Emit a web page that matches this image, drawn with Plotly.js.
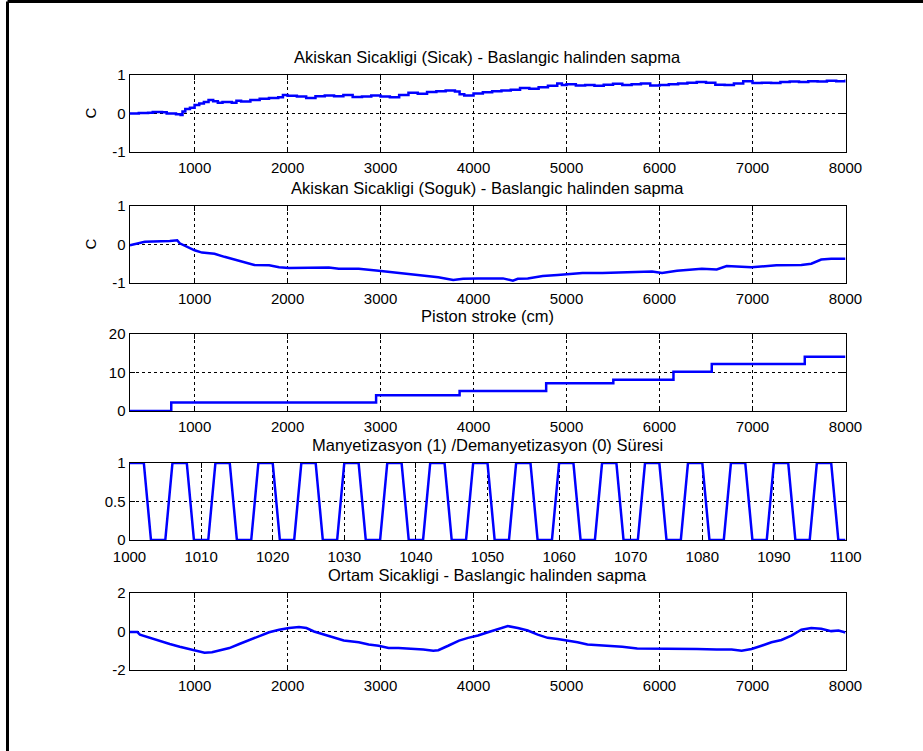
<!DOCTYPE html>
<html>
<head>
<meta charset="utf-8">
<script src="https://cdn.plot.ly/plotly-3.0.1.min.js"></script>
<style>
html,body{margin:0;padding:0;background:#fff;}
#chart{width:923px;height:751px;}
</style>
</head>
<body>
<div id="chart"></div>
<script>
// ---- Panel 1: Akiskan Sicakligi (Sicak)
const hotX = [300,400,500,550,650,700,800,850,870,900,950,1000,1050,1100,1150,1200,1250,1300,1400,1450,1500,1600,1700,1800,1900,1950,2000,2100,2200,2300,2400,2500,2600,2700,2800,2900,3000,3100,3200,3300,3400,3500,3600,3700,3800,3850,3900,4000,4100,4200,4300,4400,4500,4600,4700,4800,4900,4950,5000,5100,5200,5300,5400,5500,5600,5700,5800,5900,6000,6100,6200,6300,6400,6500,6600,6700,6800,6900,7000,7100,7200,7300,7400,7500,7600,7700,7800,7900,8000];
const hotY = [0.00,0.01,0.02,0.04,0.03,0.00,-0.02,-0.04,0.05,0.12,0.15,0.22,0.26,0.30,0.35,0.32,0.28,0.30,0.28,0.33,0.31,0.35,0.38,0.40,0.42,0.48,0.46,0.44,0.40,0.45,0.47,0.45,0.48,0.43,0.44,0.47,0.44,0.42,0.48,0.54,0.51,0.56,0.58,0.60,0.57,0.50,0.47,0.52,0.55,0.58,0.60,0.62,0.66,0.64,0.68,0.72,0.78,0.74,0.76,0.73,0.74,0.72,0.75,0.77,0.74,0.76,0.78,0.73,0.74,0.76,0.78,0.80,0.82,0.80,0.75,0.74,0.78,0.84,0.79,0.80,0.79,0.82,0.83,0.82,0.84,0.83,0.85,0.84,0.88];

// ---- Panel 2: Akiskan Sicakligi (Soguk)
const coldX = [305,465,733,813,840,920,1000,1080,1214,1321,1428,1535,1642,1802,1909,2016,2177,2444,2551,2765,2979,3193,3407,3621,3781,3888,4048,4209,4316,4423,4476,4583,4744,4904,5064,5171,5385,5653,5920,6027,6188,6455,6615,6722,6990,7257,7525,7632,7739,7846,8000];
const coldY = [-0.02,0.07,0.09,0.11,0.03,-0.06,-0.15,-0.21,-0.24,-0.32,-0.39,-0.46,-0.53,-0.54,-0.59,-0.61,-0.60,-0.60,-0.63,-0.63,-0.68,-0.74,-0.79,-0.85,-0.92,-0.89,-0.88,-0.89,-0.88,-0.94,-0.89,-0.88,-0.82,-0.79,-0.76,-0.74,-0.74,-0.72,-0.70,-0.74,-0.68,-0.63,-0.65,-0.56,-0.59,-0.54,-0.53,-0.50,-0.39,-0.37,-0.37];

// ---- Panel 3: Piston stroke (cm)
const strokeX = [300,749,2952,3850,4781,5503,6150,6562,7562,8000];
const strokeY = [0,2.2,4.1,5.2,7.2,8.1,10.2,12.2,14.1,14.1];

// ---- Panel 4: Manyetizasyon (1) / Demanyetizasyon (0)
const magX = [1000,1002,1003,1005,1006,1008,1009,1011,1012,1014,1015,1017,1018,1020,1021,1023,1024,1026,1027,1029,1030,1032,1033,1035,1036,1038,1039,1041,1042,1044,1045,1047,1048,1050,1051,1053,1054,1056,1057,1059,1060,1062,1063,1065,1066,1068,1069,1071,1072,1074,1075,1077,1078,1080,1081,1083,1084,1086,1087,1089,1090,1092,1093,1095,1096,1098,1099,1100];
const magY = [1,1,0,0,1,1,0,0,1,1,0,0,1,1,0,0,1,1,0,0,1,1,0,0,1,1,0,0,1,1,0,0,1,1,0,0,1,1,0,0,1,1,0,0,1,1,0,0,1,1,0,0,1,1,0,0,1,1,0,0,1,1,0,0,1,1,0,0];

// ---- Panel 5: Ortam Sicakligi
const ambX = [305,385,412,519,626,733,840,947,1027,1107,1187,1267,1374,1481,1588,1695,1802,1909,2016,2123,2203,2284,2390,2497,2604,2765,2872,2979,3086,3193,3300,3460,3567,3621,3727,3844,3941,4048,4155,4262,4369,4476,4583,4690,4797,4904,5011,5118,5225,5439,5599,5760,5974,6188,6401,6615,6776,6883,6990,7097,7204,7311,7418,7525,7632,7739,7846,7925,8000];
const ambY = [-0.03,-0.03,-0.16,-0.33,-0.47,-0.65,-0.79,-0.91,-1.03,-1.10,-1.08,-1.00,-0.86,-0.65,-0.44,-0.21,-0.04,0.09,0.18,0.23,0.18,0.00,-0.16,-0.33,-0.47,-0.56,-0.68,-0.74,-0.86,-0.86,-0.89,-0.93,-1.00,-0.97,-0.74,-0.47,-0.33,-0.21,-0.04,0.14,0.28,0.18,0.05,-0.16,-0.33,-0.39,-0.47,-0.56,-0.68,-0.74,-0.79,-0.88,-0.88,-0.91,-0.91,-0.93,-0.93,-1.00,-0.91,-0.74,-0.56,-0.44,-0.21,0.09,0.18,0.14,0.02,0.05,-0.05];

const titles = [
  'Akiskan Sicakligi (Sicak) - Baslangic halinden sapma',
  'Akiskan Sicakligi (Soguk) - Baslangic halinden sapma',
  'Piston stroke (cm)',
  'Manyetizasyon (1) /Demanyetizasyon (0) Süresi',
  'Ortam Sicakligi - Baslangic halinden sapma'
];
const yTickVals = [[-1,0,1],[-1,0,1],[0,10,20],[0,0.5,1],[-2,0,2]];
const yTickText = [['-1','0','1'],['-1','0','1'],['0','10','20'],['0','0.5','1'],['-2','0','2']];
const xTicksMain = [1000,2000,3000,4000,5000,6000,7000,8000];
const xTicksMag = [1000,1010,1020,1030,1040,1050,1060,1070,1080,1090,1100];

const W = 923, H = 751;
const xDom = [129.5/W, 845.5/W];
const panelPx = [[75,152],[206,283],[334,411],[463,540],[593,670]];
const yDoms = panelPx.map(p => [1 - p[1]/H, 1 - p[0]/H]);

const stepLine = {color:'#0000ff', width:2.5, shape:'hv'};
const plainLine = {color:'#0000ff', width:2.5, shape:'linear'};
const traces = [
  {x:hotX, y:hotY, xaxis:'x', yaxis:'y', mode:'lines', line:stepLine},
  {x:coldX, y:coldY, xaxis:'x2', yaxis:'y2', mode:'lines', line:plainLine},
  {x:strokeX, y:strokeY, xaxis:'x3', yaxis:'y3', mode:'lines', line:stepLine},
  {x:magX, y:magY, xaxis:'x4', yaxis:'y4', mode:'lines', line:plainLine},
  {x:ambX, y:ambY, xaxis:'x5', yaxis:'y5', mode:'lines', line:plainLine}
].map(t => Object.assign(t, {showlegend:false, hoverinfo:'skip'}));

const fam = '"Liberation Sans", Arial, sans-serif';
const tickFont = {family:fam, size:15, color:'#000'};
const titleFont = {family:fam, size:16.5, color:'#000'};
const layout = {
  width:W, height:H,
  margin:{l:0,r:0,t:0,b:0,autoexpand:false},
  paper_bgcolor:'#fff', plot_bgcolor:'#fff',
  font:tickFont,
  showlegend:false,
  annotations:[],
  shapes:[
    {type:'line', xref:'paper', yref:'paper', x0:7.5/W, x1:1, y0:1-1.5/H, y1:1-1.5/H, line:{color:'#000', width:3}},
    {type:'line', xref:'paper', yref:'paper', x0:7.5/W, x1:7.5/W, y0:0, y1:1-1.5/H, line:{color:'#000', width:3}}
  ]
};

const ranges = [[-1,1],[-1,1],[0,20],[0,1],[-2,2]];
for (let i = 0; i < 5; i++) {
  const sx = i === 0 ? '' : String(i+1);
  const isMag = i === 3;
  layout['xaxis'+sx] = {
    domain:xDom, anchor:'y'+sx,
    range: isMag ? [1000,1100] : [300,8000],
    tickmode:'array', tickvals: isMag ? xTicksMag : xTicksMain,
    ticktext: (isMag ? xTicksMag : xTicksMain).map(String),
    showline:true, linecolor:'#000', linewidth:1, mirror:'ticks',
    ticks:'inside', ticklen:5, tickcolor:'#000',
    showgrid:true, gridcolor:'#000', gridwidth:1, griddash:'3px,3px',
    zeroline:false, layer:'below traces', fixedrange:true,
    tickfont:tickFont, ticklabelstandoff: isMag ? 3 : 2
  };
  layout['yaxis'+sx] = {
    domain:yDoms[i], anchor:'x'+sx,
    range:ranges[i],
    tickmode:'array', tickvals:yTickVals[i], ticktext:yTickText[i],
    showline:true, linecolor:'#000', linewidth:1, mirror:'ticks',
    ticks:'inside', ticklen:5, tickcolor:'#000',
    showgrid:true, gridcolor:'#000', gridwidth:1, griddash:'3px,3px',
    zeroline:false, layer:'below traces', fixedrange:true,
    tickfont:tickFont
  };
  layout.annotations.push({
    text:titles[i], xref:'paper', yref:'paper',
    x:(xDom[0]+xDom[1])/2, y:yDoms[i][1], xanchor:'center', yanchor:'middle',
    yshift:18, showarrow:false, font:titleFont
  });
}
// y-axis label "C" for the first two panels
[0,1].forEach(i => {
  layout.annotations.push({
    text:'C', xref:'paper', yref:'paper', x:90/W, y:(yDoms[i][0]+yDoms[i][1])/2,
    xanchor:'center', yanchor:'middle', textangle:-90, showarrow:false, font:tickFont
  });
});

Plotly.newPlot('chart', traces, layout, {staticPlot:true, displayModeBar:false});
</script>
</body>
</html>
